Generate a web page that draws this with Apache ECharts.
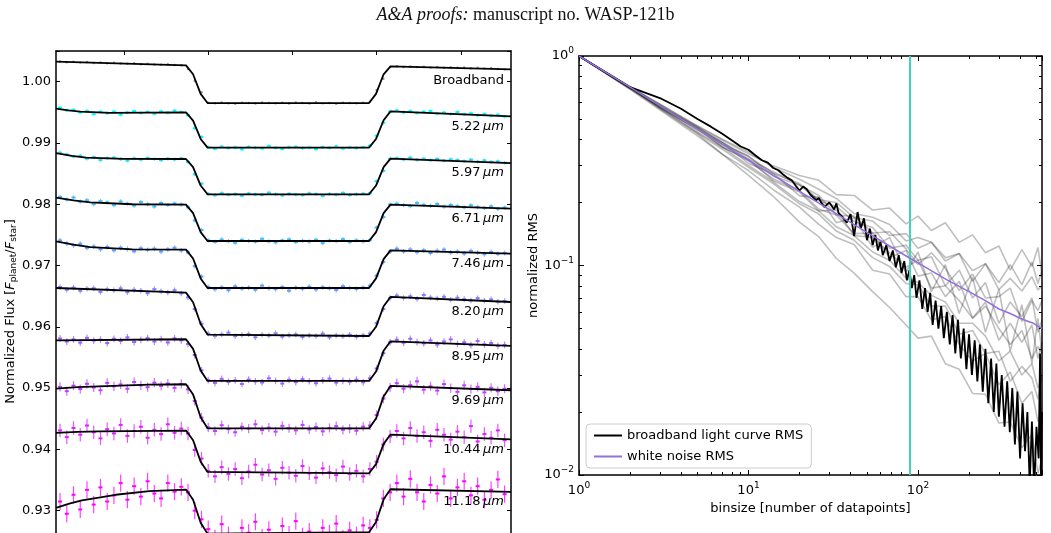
<!DOCTYPE html>
<html>
<head>
<meta charset="utf-8">
<script src="https://cdn.jsdelivr.net/npm/echarts@6/dist/echarts.min.js"></script>
<style>
  html, body { margin: 0; padding: 0; background: #fff; }
  #chart { width: 1051px; height: 533px; }
</style>
</head>
<body>
<div id="chart"></div>
<script>
// ---- left panel: light curves (flux in units of 1e-5) ----
const binTime = [-2.76, -2.68, -2.60, -2.52, -2.44, -2.36, -2.28, -2.20, -2.12, -2.04, -1.96, -1.88, -1.80, -1.72, -1.64, -1.56, -1.48, -1.40, -1.32,
  -1.24, -1.16, -1.08,
  -1.00, -0.92, -0.84, -0.76, -0.68, -0.60, -0.52, -0.44, -0.36, -0.28, -0.20, -0.12, -0.04, 0.04, 0.12, 0.20, 0.28, 0.36, 0.44, 0.52, 0.60, 0.68, 0.76, 0.84,
  0.92, 1.00, 1.08, 1.16,
  1.24, 1.32, 1.40, 1.48, 1.56, 1.64, 1.72, 1.80, 1.88, 1.96, 2.04, 2.12, 2.20, 2.28, 2.36, 2.44, 2.52]

const fluxBroadband = [100330, 100318, 100325, 100314, 100320, 100305, 100312, 100301, 100308, 100296, 100290, 100299, 100285, 100292, 100280, 100274, 100284, 100270, 100266,
  100205, 100010, 99826,
  99655, 99646, 99660, 99649, 99641, 99657, 99652, 99644, 99661, 99650, 99647, 99655, 99643, 99658, 99650, 99645, 99662, 99648, 99653, 99640, 99657, 99651, 99646, 99654,
  99672, 99865, 100049, 100240,
  100252, 100240, 100249, 100238, 100244, 100231, 100240, 100228, 100236, 100226, 100232, 100219, 100228, 100214, 100222, 100208, 100204]
const flux522 = [99575, 99530, 99541, 99498, 99522, 99470, 99509, 99485, 99512, 99461, 99497, 99520, 99488, 99505, 99476, 99514, 99493, 99528, 99503,
  99452, 99240, 99097,
  98931, 98905, 98940, 98918, 98927, 98896, 98935, 98922, 98912, 98948, 98920, 98903, 98929, 98937, 98915, 98924, 98899, 98933, 98921, 98942, 98910, 98926, 98917, 98930,
  98955, 99118, 99331, 99510,
  99530, 99498, 99519, 99488, 99507, 99521, 99480, 99496, 99472, 99505, 99468, 99484, 99450, 99471, 99445, 99462, 99430]
const flux597 = [98840, 98812, 98778, 98790, 98745, 98770, 98721, 98752, 98760, 98735, 98712, 98748, 98729, 98755, 98738, 98719, 98744, 98731, 98750,
  98690, 98488, 98335,
  98170, 98148, 98181, 98155, 98166, 98139, 98175, 98160, 98152, 98188, 98163, 98144, 98171, 98158, 98149, 98177, 98165, 98136, 98169, 98158, 98184, 98150, 98163, 98172,
  98178, 98375, 98545, 98740,
  98752, 98730, 98761, 98725, 98744, 98718, 98739, 98710, 98733, 98722, 98702, 98728, 98695, 98716, 98690, 98699, 98676]
const flux671 = [98120, 98075, 98110, 98041, 98066, 98002, 98051, 98030, 97985, 98045, 98010, 97978, 98036, 98000, 97962, 98020, 97988, 98012, 97996,
  97950, 97735, 97580,
  97412, 97385, 97425, 97398, 97370, 97418, 97402, 97389, 97436, 97395, 97377, 97410, 97428, 97381, 97404, 97392, 97420, 97366, 97408, 97399, 97430, 97384, 97411, 97396,
  97415, 97620, 97790, 97995,
  98010, 97985, 97968, 98022, 97990, 97975, 98004, 97960, 97988, 97971, 97948, 97983, 97955, 97940, 97966, 97925, 97945]
const flux746 = [97410, 97362, 97330, 97355, 97288, 97310, 97265, 97302, 97248, 97290, 97270, 97232, 97281, 97255, 97275, 97228, 97262, 97290, 97245,
  97215, 96990, 96820,
  96650, 96612, 96641, 96598, 96660, 96625, 96638, 96605, 96672, 96630, 96615, 96648, 96590, 96637, 96622, 96655, 96610, 96645, 96628, 96601, 96663, 96632, 96618, 96640,
  96670, 96835, 97060, 97230,
  97275, 97230, 97262, 97218, 97250, 97205, 97241, 97260, 97212, 97228, 97196, 97238, 97210, 97185, 97222, 97190, 97205]
const flux820 = [96650, 96605, 96640, 96588, 96622, 96630, 96570, 96612, 96595, 96628, 96565, 96604, 96590, 96548, 96615, 96580, 96560, 96598, 96545,
  96480, 96290, 96050,
  95890, 95852, 95875, 95905, 95848, 95866, 95880, 95830, 95870, 95858, 95895, 95841, 95862, 95876, 95835, 95860, 95852, 95888, 95829, 95858, 95846, 95871, 95838, 95860,
  95890, 96060, 96290, 96470,
  96510, 96470, 96498, 96455, 96520, 96478, 96462, 96490, 96440, 96475, 96452, 96430, 96468, 96425, 96448, 96410, 96420]
const flux895 = [95810, 95760, 95795, 95742, 95820, 95775, 95790, 95735, 95805, 95770, 95828, 95752, 95788, 95815, 95760, 95798, 95745, 95812, 95780,
  95720, 95540, 95290,
  95130, 95085, 95150, 95102, 95125, 95068, 95140, 95110, 95092, 95160, 95118, 95075, 95135, 95098, 95145, 95112, 95080, 95128, 95155, 95090, 95120, 95105, 95138, 95095,
  95160, 95320, 95570, 95745,
  95790, 95740, 95805, 95752, 95730, 95778, 95710, 95760, 95795, 95722, 95748, 95700, 95768, 95715, 95735, 95690, 95705]
const flux969 = [95020, 94950, 95040, 94985, 95070, 95010, 94965, 95085, 95030, 95060, 94990, 95100, 95045, 95015, 95090, 95035, 95075, 95005, 95068,
  94980, 94790, 94520,
  94360, 94300, 94395, 94330, 94280, 94370, 94340, 94410, 94315, 94355, 94290, 94385, 94345, 94310, 94400, 94325, 94365, 94295, 94350, 94380, 94320, 94340, 94305, 94372,
  94390, 94560, 94830, 95010,
  95080, 94990, 95050, 95110, 94975, 95030, 94960, 95065, 95000, 94940, 95045, 94985, 95020, 94930, 95005, 94950, 94990]
const flux1044 = [94310, 94200, 94350, 94240, 94390, 94280, 94180, 94330, 94260, 94400, 94220, 94300, 94370, 94190, 94320, 94250, 94410, 94270, 94340,
  94260, 93990, 93850,
  93650, 93560, 93710, 93600, 93680, 93530, 93640, 93750, 93590, 93660, 93520, 93700, 93620, 93570, 93730, 93610, 93540, 93690, 93630, 93580, 93720, 93600, 93650, 93560,
  93680, 93800, 94080, 94210,
  94300, 94180, 94350, 94220, 94280, 94140, 94320, 94240, 94160, 94290, 94200, 94380, 94130, 94250, 94190, 94310, 94150]
const flux1118 = [93150, 92950, 93260, 93020, 93340, 93100, 93380, 93150, 93250, 93450, 93180, 93400, 93230, 93480, 93280, 93200, 93450, 93310, 93390,
  93300, 93000, 92860,
  92700, 92550, 92780, 92600, 92480, 92720, 92640, 92820, 92560, 92690, 92500, 92750, 92610, 92830, 92580, 92660, 92450, 92720, 92630, 92790, 92540, 92680, 92600, 92760,
  92720, 92850, 93200, 93300,
  93450, 93230, 93520, 93300, 93150, 93420, 93280, 93560, 93200, 93380, 93480, 93250, 93400, 93180, 93340, 93510, 93270]

// half error bar per channel (1e-5)
const errHalf = [30, 30, 35, 40, 45, 55, 75, 110, 140]
const chanNames = ['5.22', '5.97', '6.71', '7.46', '8.20', '8.95', '9.69', '10.44', '11.18']

// transit model knots [time, flux 1e-5]
const modelBroadband = [[-2.808, 100326], [-1.264, 100266], [-1.18, 100120], [-1.09, 99800], [-1.008, 99651], [0.91, 99651], [0.993, 99800], [1.083, 100120], [1.165, 100250], [2.596, 100200]]
const model522 = [[-2.808, 99560], [-2.66, 99530], [-2.52, 99510], [-2.17, 99492], [-1.264, 99500], [-1.18, 99365], [-1.09, 99065], [-1.008, 98923], [0.91, 98923], [0.993, 99065], [1.083, 99370], [1.165, 99515], [2.596, 99434]]
const model597 = [[-2.808, 98835], [-2.62, 98790], [-2.45, 98760], [-2.0, 98740], [-1.264, 98738], [-1.18, 98605], [-1.09, 98305], [-1.008, 98162], [0.91, 98162], [0.993, 98305], [1.083, 98605], [1.165, 98744], [2.596, 98672]]
const model671 = [[-2.808, 98108], [-2.6, 98062], [-2.4, 98030], [-1.9, 98000], [-1.264, 97994], [-1.18, 97856], [-1.09, 97545], [-1.008, 97400], [0.91, 97400], [0.993, 97545], [1.083, 97856], [1.165, 97994], [2.596, 97929]]
const model746 = [[-2.808, 97395], [-2.6, 97340], [-2.4, 97300], [-1.9, 97265], [-1.264, 97260], [-1.18, 97115], [-1.09, 96790], [-1.008, 96633], [0.91, 96633], [0.993, 96790], [1.083, 97105], [1.165, 97248], [2.596, 97194]]
const model820 = [[-2.808, 96633], [-1.264, 96558], [-1.18, 96400], [-1.09, 96045], [-1.008, 95873], [0.91, 95850], [0.993, 96000], [1.083, 96335], [1.165, 96487], [2.596, 96405]]
const model895 = [[-2.808, 95780], [-1.264, 95797], [-1.18, 95640], [-1.09, 95287], [-1.008, 95117], [0.91, 95117], [0.993, 95270], [1.083, 95610], [1.165, 95764], [2.596, 95688]]
const model969 = [[-2.808, 94993], [-2.55, 95015], [-2.3, 95030], [-1.7, 95058], [-1.264, 95063], [-1.18, 94897], [-1.09, 94525], [-1.008, 94345], [0.91, 94343], [0.993, 94505], [1.083, 94865], [1.165, 95035], [2.596, 94965]]
const model1044 = [[-2.808, 94269], [-2.55, 94285], [-2.3, 94295], [-1.264, 94308], [-1.18, 94150], [-1.09, 93800], [-1.008, 93633], [0.91, 93610], [0.993, 93760], [1.083, 94090], [1.165, 94242], [2.596, 94165]]
const model1118 = [[-2.808, 93045], [-2.65, 93115], [-2.5, 93170], [-2.1, 93260], [-1.7, 93320], [-1.264, 93345], [-1.18, 93178], [-1.09, 92805], [-1.008, 92625], [0.91, 92650], [0.993, 92815], [1.083, 93185], [1.165, 93350], [2.596, 93306]]

// label heights (1e-5)
const labelFlux = [100021, 99271, 98509, 97765, 97031, 96242, 95520, 94790, 93998, 93143]

// ---- right panel: RMS vs bin size ----
const binsBroad = [1, 2, 3, 4, 5, 6, 7, 8, 9, 10, 11, 12, 13, 14, 15, 16, 17, 18, 19, 20, 21, 22, 23, 24, 25, 26, 27, 28,
  30, 32, 33, 34, 36, 38, 40, 42, 44, 46, 48, 50, 52, 54, 56, 58, 60, 62, 65, 68, 71, 74, 77, 80, 83, 86, 89, 92, 95, 98, 102, 106,
  110, 114, 118, 122, 127, 132, 137, 142, 148, 154, 160, 166, 172, 179, 186, 193, 200, 208, 216, 224, 232, 241, 250, 260, 270, 280, 290, 300, 312, 324,
  336, 348, 360, 373, 386, 400, 414, 428, 442, 456, 470, 485, 500, 515, 525, 532, 539]
const rmsBroad = [1.0, 0.71, 0.63, 0.56, 0.50, 0.46, 0.425, 0.395, 0.37, 0.357, 0.335, 0.318, 0.31, 0.292, 0.285, 0.272, 0.262, 0.255, 0.24, 0.228, 0.238, 0.232, 0.22, 0.212, 0.205, 0.21, 0.198, 0.19,
  0.2, 0.185, 0.198, 0.178, 0.17, 0.16, 0.176, 0.138, 0.18, 0.15, 0.168, 0.132, 0.15, 0.125, 0.14, 0.118, 0.13, 0.112, 0.125, 0.105, 0.118, 0.098, 0.112, 0.092, 0.105, 0.085, 0.095, 0.078, 0.09, 0.07, 0.085, 0.062,
  0.078, 0.06, 0.074, 0.052, 0.068, 0.05, 0.064, 0.045, 0.06, 0.042, 0.058, 0.038, 0.055, 0.036, 0.05, 0.032, 0.047, 0.03, 0.044, 0.028, 0.042, 0.025, 0.04, 0.022, 0.036, 0.02, 0.034, 0.019, 0.03, 0.017,
  0.028, 0.016, 0.026, 0.014, 0.025, 0.012, 0.022, 0.013, 0.02, 0.009, 0.018, 0.0085, 0.017, 0.012, 0.038, 0.009, 0.02]

const binsWhite = [1, 2, 5, 10, 20, 50, 90, 100, 150, 200, 250, 300, 350, 400, 436, 438, 480, 539]
const rmsWhite = [1, 0.71, 0.448, 0.318, 0.226, 0.144, 0.108, 0.103, 0.085, 0.075, 0.068, 0.062, 0.059, 0.056, 0.0545, 0.0555, 0.053, 0.050]

const binsChan = [1, 2, 3, 5, 7, 10, 14, 20, 26, 33, 42, 54, 68, 85, 100, 120, 145, 175, 210, 250, 300, 350, 410, 470, 510, 539]
const rmsCh1 = [1, .707, .589, .460, .397, .341, .299, .269, .255, .218, .216, .184, .188, .158, .172, .147, .160, .129, .140, .115, .124, .095, .119, .099, .122, .090]
const rmsCh2 = [1, .700, .560, .425, .340, .269, .214, .161, .137, .108, .092, .075, .063, .052, .045, .046, .034, .032, .0245, .0243, .0177, .0179, .0135, .0156, .0102, .012]
const rmsCh3 = [1, .707, .577, .451, .389, .322, .280, .242, .204, .191, .162, .152, .121, .125, .106, .110, .080, .095, .070, .083, .053, .067, .057, .070, .048, .055]
const rmsCh4 = [1, .700, .565, .429, .359, .294, .246, .197, .176, .146, .132, .109, .099, .082, .081, .064, .064, .047, .049, .038, .039, .028, .033, .029, .023, .030]
const rmsCh5 = [1, .707, .571, .447, .370, .316, .259, .228, .186, .174, .142, .143, .109, .118, .089, .092, .071, .084, .056, .067, .044, .053, .043, .052, .036, .043]
const rmsCh6 = [1, .714, .589, .465, .401, .348, .294, .258, .231, .209, .177, .170, .157, .131, .136, .129, .105, .114, .0945, .102, .0767, .0868, .0756, .0884, .0765, .080]
const rmsCh7 = [1, .693, .554, .416, .340, .284, .230, .190, .157, .136, .126, .095, .091, .071, .071, .055, .057, .042, .035, .038, .027, .031, .022, .025, .018, .021]
const rmsCh8 = [1, .707, .583, .443, .386, .307, .275, .215, .212, .160, .169, .122, .136, .093, .116, .075, .101, .059, .088, .048, .077, .039, .065, .034, .056, .038]
const rmsCh9 = [1, .707, .577, .456, .378, .332, .275, .246, .206, .200, .169, .163, .139, .142, .121, .129, .109, .114, .084, .102, .083, .101, .081, .104, .082, .095]
const rmsCh10 = [1, .700, .571, .434, .367, .300, .251, .202, .182, .153, .139, .116, .106, .087, .083, .072, .067, .053, .053, .046, .035, .039, .030, .034, .026, .029]
const rmsCh11 = [1, .707, .565, .451, .367, .322, .254, .224, .182, .184, .139, .136, .115, .098, .106, .078, .080, .068, .056, .064, .050, .042, .049, .036, .041, .038]
const rmsCh12 = [1, .714, .577, .460, .386, .332, .267, .242, .216, .174, .172, .143, .145, .120, .101, .115, .097, .076, .091, .070, .071, .078, .054, .068, .061, .068]

const binsizeCut = 90
const xTicksLeft = [-2, -1, 0, 1, 2]
const xMinorRight = [2, 3, 4, 5, 6, 7, 8, 9, 20, 30, 40, 50, 60, 70, 80, 90, 200, 300, 400, 500]
const yMinorRight = [0.02, 0.03, 0.04, 0.05, 0.06, 0.07, 0.08, 0.09, 0.2, 0.3, 0.4, 0.5, 0.6, 0.7, 0.8, 0.9]

const FONT = 'DejaVu Sans'
const chanColors = ['#00ffff', '#20dfff', '#40bfff', '#609fff', '#8080ff', '#9f60ff', '#bf40ff', '#df20ff', '#ff00ff']
const chanFlux = [flux522, flux597, flux671, flux746, flux820, flux895, flux969, flux1044, flux1118]
const models = [modelBroadband, model522, model597, model671, model746, model820, model895, model969, model1044, model1118]
const rmsChannels = [rmsCh1, rmsCh2, rmsCh3, rmsCh4, rmsCh5, rmsCh6, rmsCh7, rmsCh8, rmsCh9, rmsCh10, rmsCh11, rmsCh12]

const spine = { show: true, onZero: false, lineStyle: { color: '#000', width: 1.5 } }
const tickIn = (len) => ({ show: true, inside: true, length: len, lineStyle: { color: '#000', width: 1 } })

// only label powers of ten (the axis max also gets a tick)
function expLabel(v) {
  const e = Math.round(Math.log10(v))
  if (Math.abs(Math.log10(v) - e) > 1e-6) return ''
  return '10{s|' + (e < 0 ? '\u2212' + (-e) : e) + '}'
}
const expRich = { s: { fontSize: 9, fontFamily: FONT, color: '#000', padding: [0, 0, 10, 0] } }

function fluxLabel(v) {
  if (Math.abs(v * 100 - Math.round(v * 100)) > 1e-6) return ''
  return v.toFixed(2)
}

function renderErr(params, api) {
  const x = api.value(0), y = api.value(1), e = api.value(2)
  const p = api.coord([x, y])
  const top = api.coord([x, y + e])
  const bot = api.coord([x, y - e])
  const c = api.visual('color')
  return {
    type: 'group',
    children: [
      { type: 'line', shape: { x1: p[0], y1: top[1], x2: p[0], y2: bot[1] }, style: { stroke: c, lineWidth: 1.2, opacity: 0.75 } },
      { type: 'line', shape: { x1: p[0] - 2, y1: p[1], x2: p[0] + 2, y2: p[1] }, style: { stroke: c, lineWidth: 2 } }
    ]
  }
}

const series = []

// broadband data points
series.push({
  type: 'scatter', xAxisIndex: 0, yAxisIndex: 0, silent: true, z: 2,
  symbolSize: 2.5, itemStyle: { color: 'rgba(80,80,80,0.75)' },
  data: fluxBroadband.map((v, k) => [binTime[k], v / 1e5])
})

chanFlux.forEach((arr, i) => {
  series.push({
    type: 'custom', xAxisIndex: 0, yAxisIndex: 0, silent: true, z: 3, clip: true,
    itemStyle: { color: chanColors[i] },
    encode: { x: 0, y: 1 },
    renderItem: renderErr,
    data: arr.map((v, k) => [binTime[k], v / 1e5, errHalf[i] / 1e5])
  })
})

models.forEach((m) => {
  series.push({
    type: 'line', xAxisIndex: 0, yAxisIndex: 0, silent: true, z: 4,
    symbol: 'none', lineStyle: { color: '#000', width: 1.8 },
    data: m.map(d => [d[0], d[1] / 1e5])
  })
})

series.push({
  type: 'scatter', xAxisIndex: 0, yAxisIndex: 0, silent: true, z: 6,
  symbolSize: 0, itemStyle: { color: '#000', opacity: 1 },
  label: {
    show: true, position: 'left', distance: 1, opacity: 1,
    fontFamily: FONT, fontSize: 13, color: '#000',
    formatter: (p) => p.dataIndex === 0 ? 'Broadband' : chanNames[p.dataIndex - 1] + '\u2009{u|\u03bcm}',
    rich: { u: { fontFamily: FONT, fontSize: 13, fontStyle: 'italic', color: '#000' } }
  },
  data: labelFlux.map(v => [2.525, v / 1e5])
})

// right panel
rmsChannels.forEach((r) => {
  series.push({
    type: 'line', xAxisIndex: 1, yAxisIndex: 2, silent: true, z: 2,
    symbol: 'none', lineStyle: { color: 'rgba(0,0,0,0.25)', width: 1.6 },
    data: r.map((v, k) => [binsChan[k], v])
  })
})

series.push({
  name: 'broadband light curve RMS',
  type: 'line', xAxisIndex: 1, yAxisIndex: 2, z: 4,
  symbol: 'none', lineStyle: { color: '#000', width: 1.8 }, itemStyle: { color: '#000' },
  data: rmsBroad.map((v, k) => [binsBroad[k], v]),
  markLine: {
    silent: true, symbol: 'none', label: { show: false },
    lineStyle: { color: '#45d3b5', width: 2, type: 'solid' },
    data: [{ xAxis: binsizeCut }]
  }
})
series.push({
  name: 'white noise RMS',
  type: 'line', xAxisIndex: 1, yAxisIndex: 2, z: 5,
  symbol: 'none', lineStyle: { color: '#9370db', width: 1.5 }, itemStyle: { color: '#9370db' },
  data: rmsWhite.map((v, k) => [binsWhite[k], v])
})

const chart = echarts.init(document.getElementById('chart'))
chart.setOption({
  animation: false,
  backgroundColor: '#fff',
  textStyle: { fontFamily: FONT },
  graphic: [{
    type: 'text', left: 'center', top: 6,
    style: {
      text: '{i|A&A proofs:} manuscript no. WASP-121b',
      font: '18px "Liberation Serif"', fill: '#111',
      rich: { i: { fontStyle: 'italic', fontFamily: 'Liberation Serif', fontSize: 18 } }
    }
  }],
  legend: {
    data: ['broadband light curve RMS', 'white noise RMS'],
    orient: 'vertical', left: 586, top: 424,
    icon: 'rect',
    backgroundColor: '#fff', borderColor: '#ccc', borderWidth: 1, borderRadius: 4,
    padding: [5, 8, 5, 8], itemWidth: 28, itemHeight: 2, itemGap: 8,
    textStyle: { fontFamily: FONT, fontSize: 13, color: '#000' }
  },
  grid: [
    { left: 56, top: 51, width: 455, height: 521, outerBoundsMode: 'none' },
    { left: 579, top: 56, width: 463, height: 419, outerBoundsMode: 'none' }
  ],
  xAxis: [
    { gridIndex: 0, type: 'value', position: 'top', min: -2.808, max: 2.596,
      axisLine: spine, axisTick: Object.assign(tickIn(4), { customValues: xTicksLeft }),
      axisLabel: { show: false }, splitLine: { show: false } },
    { gridIndex: 1, type: 'log', position: 'bottom', min: 1, max: 539, logBase: 10,
      axisLine: spine, axisTick: tickIn(5),
      axisLabel: { formatter: expLabel, fontSize: 13, color: '#000', margin: 6, rich: expRich },
      splitLine: { show: false },
      name: 'binsize [number of datapoints]', nameLocation: 'middle', nameGap: 16,
      nameTextStyle: { fontSize: 13, color: '#000', fontFamily: FONT } },
    { gridIndex: 1, type: 'log', position: 'top', min: 1, max: 539, logBase: 10,
      axisLine: spine, axisTick: tickIn(5), axisLabel: { show: false }, splitLine: { show: false } },
    { gridIndex: 1, type: 'value', position: 'bottom', min: 0, max: Math.log10(539),
      axisLine: { show: false, onZero: false }, axisLabel: { show: false }, splitLine: { show: false },
      axisTick: Object.assign(tickIn(3), { customValues: xMinorRight.map(Math.log10) }) },
    { gridIndex: 1, type: 'value', position: 'top', min: 0, max: Math.log10(539),
      axisLine: { show: false, onZero: false }, axisLabel: { show: false }, splitLine: { show: false },
      axisTick: Object.assign(tickIn(3), { customValues: xMinorRight.map(Math.log10) }) }
  ],
  yAxis: [
    { gridIndex: 0, type: 'value', position: 'left', min: 0.92, max: 1.005, interval: 0.01,
      axisLine: spine, axisTick: tickIn(4), splitLine: { show: false },
      axisLabel: { formatter: fluxLabel, fontSize: 13, color: '#000', margin: 5 },
      name: 'Normalized Flux [{i|F}{s|planet}/{i|F}{s|star}]', nameLocation: 'middle', nameGap: 31,
      nameTextStyle: {
        fontSize: 13, color: '#000', fontFamily: FONT,
        rich: {
          i: { fontSize: 13, fontStyle: 'italic', fontFamily: FONT, color: '#000' },
          s: { fontSize: 9, fontFamily: FONT, color: '#000', padding: [7, 0, 0, 0] }
        }
      } },
    { gridIndex: 0, type: 'value', position: 'right', min: 0.92, max: 1.005, interval: 0.01,
      axisLine: spine, axisTick: tickIn(4), axisLabel: { show: false }, splitLine: { show: false } },
    { gridIndex: 1, type: 'log', position: 'left', min: 0.01, max: 1, logBase: 10,
      axisLine: spine, axisTick: tickIn(5), splitLine: { show: false },
      axisLabel: { formatter: expLabel, fontSize: 13, color: '#000', margin: 5, rich: expRich },
      name: 'normalized RMS', nameLocation: 'middle', nameGap: 36,
      nameTextStyle: { fontSize: 13, color: '#000', fontFamily: FONT } },
    { gridIndex: 1, type: 'log', position: 'right', min: 0.01, max: 1, logBase: 10,
      axisLine: spine, axisTick: tickIn(5), axisLabel: { show: false }, splitLine: { show: false } },
    { gridIndex: 1, type: 'value', position: 'left', min: -2, max: 0,
      axisLine: { show: false, onZero: false }, axisLabel: { show: false }, splitLine: { show: false },
      axisTick: Object.assign(tickIn(3), { customValues: yMinorRight.map(Math.log10) }) },
    { gridIndex: 1, type: 'value', position: 'right', min: -2, max: 0,
      axisLine: { show: false, onZero: false }, axisLabel: { show: false }, splitLine: { show: false },
      axisTick: Object.assign(tickIn(3), { customValues: yMinorRight.map(Math.log10) }) }
  ],
  series: series
})
</script>
</body>
</html>
